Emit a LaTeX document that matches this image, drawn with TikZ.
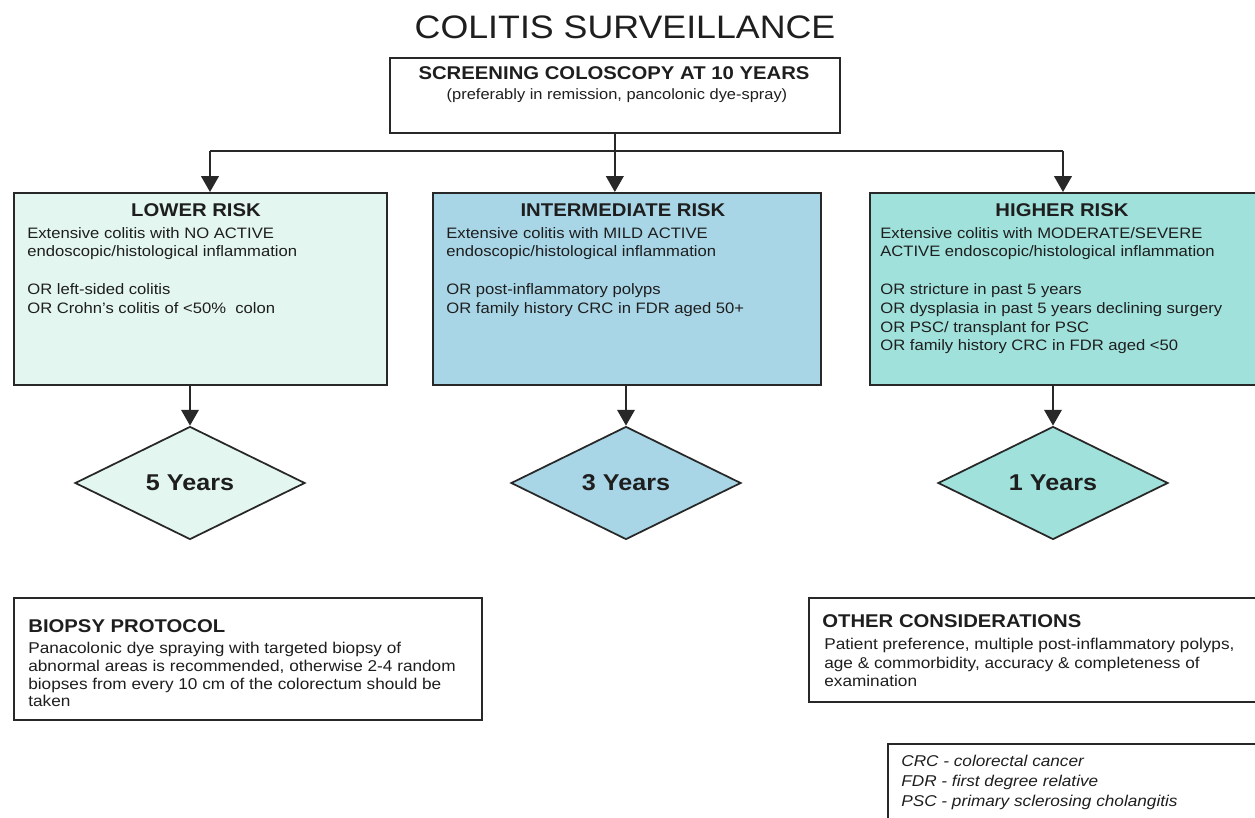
\documentclass[tikz,border=0pt]{standalone}
\usepackage{fontspec}
\setmainfont{Liberation Sans}[FakeStretch=1.1]
\usetikzlibrary{arrows.meta,shapes.geometric,positioning}
\definecolor{lowfill}{RGB}{227,246,239}
\definecolor{midfill}{RGB}{168,214,231}
\definecolor{highfill}{RGB}{160,225,219}
\definecolor{edge}{RGB}{40,40,40}
\definecolor{ink}{RGB}{30,30,30}
\newcommand{\fs}[2]{\fontsize{#1}{#2}\selectfont}

\begin{document}
\begin{tikzpicture}[x=0.02cm, y=-0.02cm, >={Triangle[width=10pt,length=9pt]},
    box/.style={draw=edge, line width=1pt, inner sep=0pt, anchor=north west},
    head/.style={anchor=base, inner sep=0pt, text=ink, font=\bfseries\fs{10.5}{12}},
    body/.style={anchor=north west, inner sep=0pt, align=left, text=ink, font=\fs{8.6}{10.6}},
    note/.style={body, font=\fs{8.9}{10.1}},
    years/.style={diamond, draw=edge, line width=1pt, inner sep=0pt, minimum width=4.6cm, minimum height=2.26cm, text=ink, font=\bfseries\fs{13}{15}},
    link/.style={draw=edge, line width=1pt}]
    \useasboundingbox (0,0) rectangle (1255,818);

    % 1. Title and screening box
    \node[anchor=base, inner sep=0pt, text=ink, font=\fs{18.5}{22}] (title) at (625,38) {COLITIS SURVEILLANCE};
    \node[box, minimum width=9cm, minimum height=1.5cm] (top) at (389,57) {};
    \node[head] (toph) at (614,79) {SCREENING COLOSCOPY AT 10 YEARS};
    \node[anchor=base, inner sep=0pt, text=ink, font=\fs{8.5}{10}] (tops) at (617,99) {(preferably in remission, pancolonic dye-spray)};

    % 2. Risk groups
    \node[box, fill=lowfill, minimum width=7.46cm, minimum height=3.84cm] (lower) at (13,192) {};
    \node[head] (lowerh) at (196,216) {LOWER RISK};
    \node[body] (lowerb) at (27,227) {Extensive colitis with NO ACTIVE\\endoscopic/histological inflammation\\[11pt]OR left-sided colitis\\OR Crohn's colitis of <50\%\ \ colon};

    \node[box, fill=midfill, minimum width=7.76cm, minimum height=3.84cm] (inter) at (432,192) {};
    \node[head] (interh) at (623,216) {INTERMEDIATE RISK};
    \node[body] (interb) at (446,227) {Extensive colitis with MILD ACTIVE\\endoscopic/histological inflammation\\[11pt]OR post-inflammatory polyps\\OR family history CRC in FDR aged 50+};

    \node[box, fill=highfill, minimum width=7.76cm, minimum height=3.84cm] (higher) at (869,192) {};
    \node[head] (higherh) at (1062,216) {HIGHER RISK};
    \node[body] (higherb) at (880,227) {Extensive colitis with MODERATE/SEVERE\\ACTIVE endoscopic/histological inflammation\\[11pt]OR stricture in past 5 years\\OR dysplasia in past 5 years declining surgery\\OR PSC/ transplant for PSC\\OR family history CRC in FDR aged <50};

    % 3. Intervals
    \node[years, fill=lowfill] (d5) at (190,483) {5 Years};
    \node[years, fill=midfill] (d3) at (626,483) {3 Years};
    \node[years, fill=highfill] (d1) at (1053,483) {1 Years};

    % 4. Connectors
    \coordinate (jl) at (210,151);
    \coordinate (jr) at (1063,151);
    \coordinate (split) at (top.south |- jl);
    \draw[link] (top.south) -- (split);
    \draw[link] (jl) -- (jr);
    \draw[link,->] (jl) -- (jl |- lower.north);
    \draw[link,->] (split) -- (split |- inter.north);
    \draw[link,->] (jr) -- (jr |- higher.north);
    \draw[link,->] (d5.north |- lower.south) -- (d5.north);
    \draw[link,->] (d3.north |- inter.south) -- (d3.north);
    \draw[link,->] (d1.north |- higher.south) -- (d1.north);

    % 5. Notes at the bottom
    \node[box, minimum width=9.36cm, minimum height=2.44cm] (biopsy) at (13,597) {};
    \node[head, anchor=base west] (biopsyh) at (28,632) {BIOPSY PROTOCOL};
    \node[note] (biopsyb) at (28,642) {Panacolonic dye spraying with targeted biopsy of\\abnormal areas is recommended, otherwise 2-4 random\\biopses from every 10 cm of the colorectum should be\\taken};

    \node[box, minimum width=9cm, minimum height=2.08cm] (other) at (808,597) {};
    \node[head, anchor=base west] (otherh) at (822,627) {OTHER CONSIDERATIONS};
    \node[note, font=\fs{8.9}{10.5}] (otherb) at (824,638) {Patient preference, multiple post-inflammatory polyps,\\age \& commorbidity, accuracy \& completeness of\\examination};

    \node[box, minimum width=7.44cm, minimum height=2cm] (legend) at (887,743) {};
    \node[note, font=\itshape\fs{8.9}{11.4}] (legendb) at (901,755) {CRC - colorectal cancer\\FDR - first degree relative\\PSC - primary sclerosing cholangitis};

\end{tikzpicture}
\end{document}
